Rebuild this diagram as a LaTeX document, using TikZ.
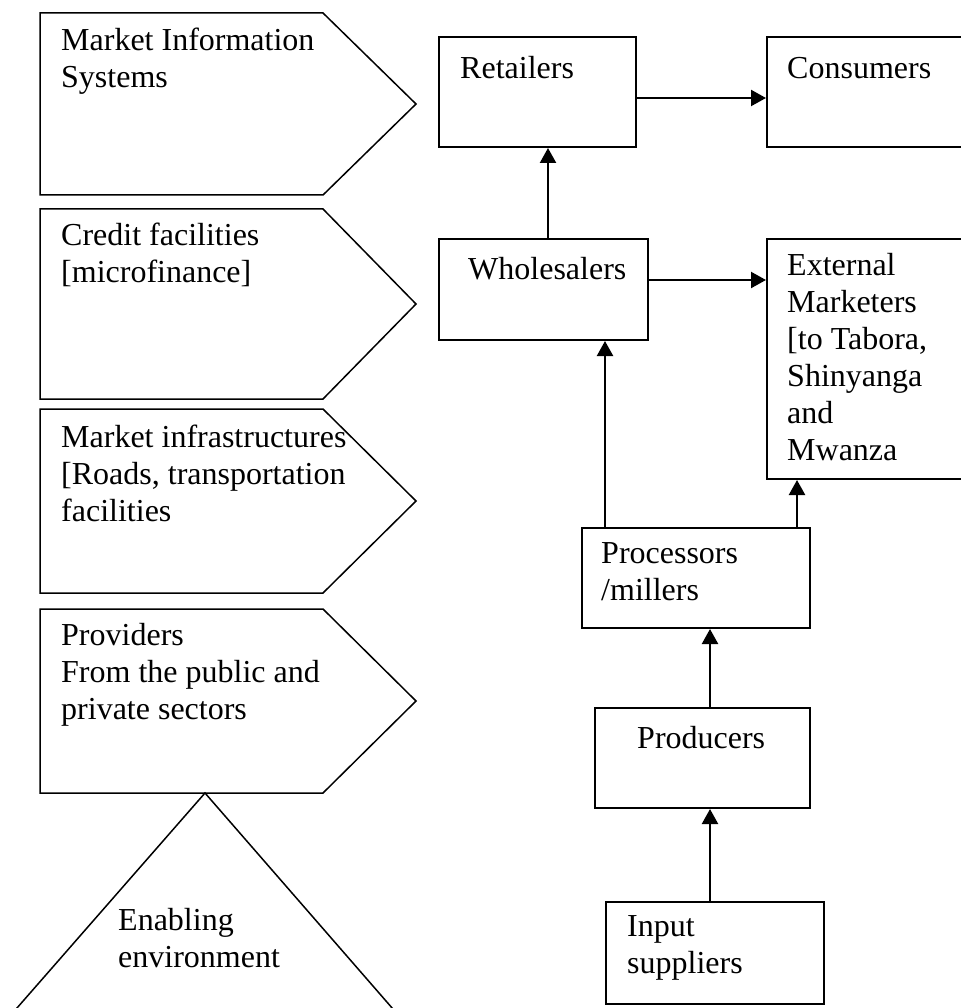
\documentclass[tikz,border=0pt]{standalone}
\usepackage{fontspec}
\setmainfont{Liberation Serif}
\usetikzlibrary{arrows.meta}
\tikzset{
  stage/.style={draw, line width=2pt, anchor=north west, inner sep=0pt},
  sidebox/.style={draw, line width=1.5pt, line join=miter},
  txt/.style={anchor=north west, inner sep=0pt, align=left,
              font=\fontsize{32}{37}\selectfont, execute at begin node=\strut},
  flow/.style={line width=2.2pt, -{Triangle[length=15pt,width=16pt]}},
}
\begin{document}
\begin{tikzpicture}[x=1pt, y=-1pt]
\useasboundingbox (0,0) rectangle (960,1008);

% support services on the left
\foreach \t/\b in {13/195, 209/399, 409/593, 609/793}
  \draw[sidebox] (40,\t) -- (323,\t) -- (416,{(\t+\b)/2}) -- (323,\b) -- (40,\b) -- cycle;
\draw[sidebox] (-4,1032) -- (205,793) -- (413,1032);

\node[txt] (mis) at (61,28) {Market Information\\Systems};
\node[txt] (credit) at (61,223) {Credit facilities\\{}[microfinance]};
\node[txt] (infra) at (61,425) {Market infrastructures\\{}[Roads, transportation\\facilities};
\node[txt] (prov) at (61,623) {Providers\\From the public and\\private sectors};
\node[txt] (enabl) at (118,908) {Enabling\\environment};

% value chain
\node[stage, minimum width=197pt, minimum height=110pt] (retail) at (438,36) {};
\node[stage, minimum width=196pt, minimum height=110pt] (cons) at (766,36) {};
\node[stage, minimum width=209pt, minimum height=101pt] (whole) at (438,238) {};
\node[stage, minimum width=196pt, minimum height=240pt] (ext) at (766,238) {};
\node[stage, minimum width=228pt, minimum height=100pt] (proc) at (581,527) {};
\node[stage, minimum width=215pt, minimum height=100pt] (prod) at (594,707) {};
\node[stage, minimum width=218pt, minimum height=102pt] (inp) at (605,901) {};

\node[txt] (retail-t) at (460,52) {Retailers};
\node[txt] (cons-t) at (787,52) {Consumers};
\node[txt] (whole-t) at (468,253) {Wholesalers};
\node[txt] (ext-t) at (787,253) {External\\Marketers\\{}[to Tabora,\\Shinyanga\\and\\Mwanza};
\node[txt] (proc-t) at (601,542) {Processors\\/millers};
\node[txt] (prod-t) at (637,722) {Producers};
\node[txt] (inp-t) at (627,915) {Input\\suppliers};

\draw[flow] (retail.east |- 0,98) -- (cons.west |- 0,98);
\draw[flow] (whole.east |- 0,280) -- (ext.west |- 0,280);
\draw[flow] (whole.north -| 548,0) -- (retail.south -| 548,0);
\draw[flow] (proc.north -| 605,0) -- (whole.south -| 605,0);
\draw[flow] (proc.north -| 797,0) -- (ext.south -| 797,0);
\draw[flow] (prod.north -| 710,0) -- (proc.south -| 710,0);
\draw[flow] (inp.north -| 710,0) -- (prod.south -| 710,0);
\end{tikzpicture}
\end{document}
